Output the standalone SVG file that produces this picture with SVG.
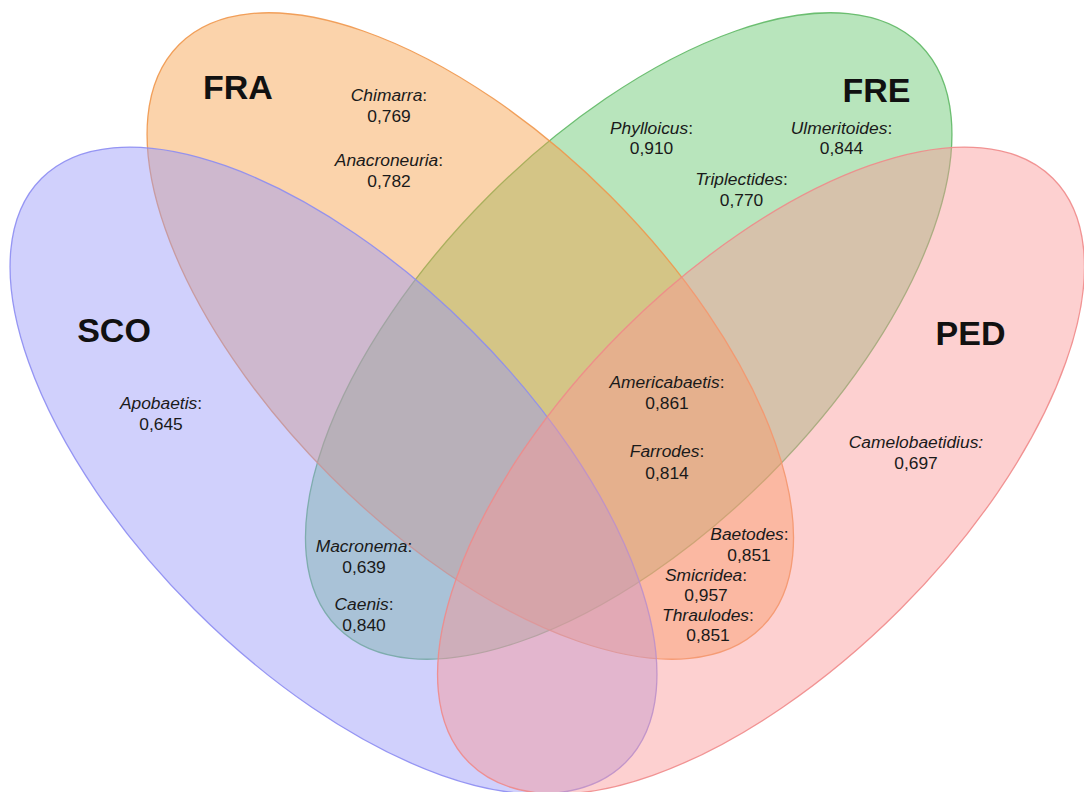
<svg xmlns="http://www.w3.org/2000/svg" width="1084" height="792" viewBox="0 0 1084 792">
<style>
.set{stroke-width:1.3}
.lbl{font-family:"Liberation Sans",Arial,sans-serif;font-weight:bold;font-size:34px;fill:#111;text-anchor:middle}
.t{font-family:"Liberation Sans",Arial,sans-serif;font-size:17.4px;fill:#1a1a1a;text-anchor:middle}
.i{font-style:italic}
</style>
<rect width="1084" height="792" fill="#ffffff"/>
<g id="sets">
<g id="FRE"><ellipse class="set" cx="0" cy="0" rx="412" ry="198" transform="translate(628.7 336) rotate(-45)" fill="rgb(98,198,107)" fill-opacity="0.45" stroke="#5fb865" stroke-opacity="0.9"/></g>
<g id="FRA"><ellipse class="set" cx="0" cy="0" rx="412" ry="198" transform="translate(470.3 336) rotate(45)" fill="rgb(247,158,69)" fill-opacity="0.45" stroke="#f0974c" stroke-opacity="0.9"/></g>
<g id="SCO"><ellipse class="set" cx="0" cy="0" rx="413" ry="196.6" transform="translate(333.5 470.5) rotate(45)" fill="rgb(151,151,249)" fill-opacity="0.45" stroke="#8c8cf2" stroke-opacity="0.9"/></g>
<g id="PED"><ellipse class="set" cx="0" cy="0" rx="413" ry="196.6" transform="translate(761 470.5) rotate(-45)" fill="rgb(251,151,151)" fill-opacity="0.45" stroke="#ef8a8a" stroke-opacity="0.9"/></g>
</g>
<g id="connectors"></g>
<g id="labels">
<text class="lbl" x="238" y="99">FRA</text>
<text class="lbl" x="876.5" y="102">FRE</text>
<text class="lbl" x="114" y="342">SCO</text>
<text class="lbl" x="970.5" y="345">PED</text>
</g>
<g id="values">
<text class="t" x="389" y="101"><tspan class="i">Chimarra</tspan>:</text>
<text class="t" x="389" y="122">0,769</text>
<text class="t" x="389" y="166"><tspan class="i">Anacroneuria</tspan>:</text>
<text class="t" x="389" y="187">0,782</text>
<text class="t" x="651.5" y="134"><tspan class="i">Phylloicus</tspan>:</text>
<text class="t" x="651.5" y="154">0,910</text>
<text class="t" x="841.5" y="134"><tspan class="i">Ulmeritoides</tspan>:</text>
<text class="t" x="841.5" y="154">0,844</text>
<text class="t" x="741.5" y="185"><tspan class="i">Triplectides</tspan>:</text>
<text class="t" x="741.5" y="206">0,770</text>
<text class="t" x="161" y="409"><tspan class="i">Apobaetis</tspan>:</text>
<text class="t" x="161" y="430">0,645</text>
<text class="t" x="667" y="388"><tspan class="i">Americabaetis</tspan>:</text>
<text class="t" x="667" y="409">0,861</text>
<text class="t" x="667" y="457"><tspan class="i">Farrodes</tspan>:</text>
<text class="t" x="667" y="479">0,814</text>
<text class="t" x="916" y="448"><tspan class="i">Camelobaetidius:</tspan></text>
<text class="t" x="916" y="469">0,697</text>
<text class="t" x="749.5" y="540"><tspan class="i">Baetodes</tspan>:</text>
<text class="t" x="749" y="561">0,851</text>
<text class="t" x="706" y="581"><tspan class="i">Smicridea</tspan>:</text>
<text class="t" x="706" y="601">0,957</text>
<text class="t" x="708" y="621"><tspan class="i">Thraulodes</tspan>:</text>
<text class="t" x="708" y="641">0,851</text>
<text class="t" x="364" y="552"><tspan class="i">Macronema</tspan>:</text>
<text class="t" x="364" y="573">0,639</text>
<text class="t" x="364" y="610"><tspan class="i">Caenis</tspan>:</text>
<text class="t" x="364" y="631">0,840</text>
</g>
</svg>
